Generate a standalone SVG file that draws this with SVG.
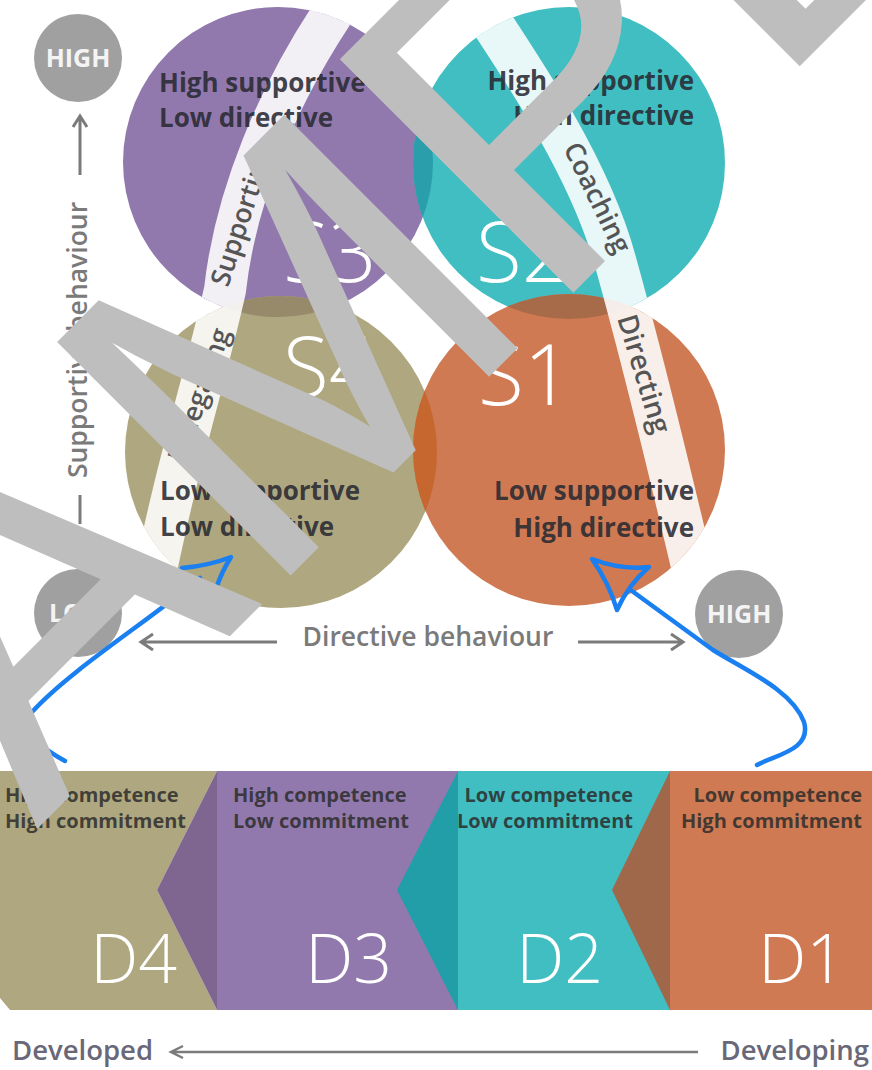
<svg xmlns="http://www.w3.org/2000/svg" width="872" height="1070" viewBox="0 0 872 1070">
<style>
.lbl{font-family:"Open Sans","Liberation Sans",sans-serif;font-weight:700;font-size:26px;fill:#2a2a33;fill-opacity:.9}
.dl{font-family:"Open Sans","Liberation Sans",sans-serif;font-weight:700;font-size:20px;fill:#2c2c2c;fill-opacity:.85}
.big{font-family:"Open Sans","Liberation Sans",sans-serif;font-weight:300;fill:#ffffff}
.band{font-family:"Open Sans","Liberation Sans",sans-serif;font-weight:600;font-size:27px;fill:#555555}
.axis{font-family:"Open Sans","Liberation Sans",sans-serif;font-weight:600;font-size:26.5px;fill:#7a7a7a}
.dev{font-family:"Open Sans","Liberation Sans",sans-serif;font-weight:600;font-size:27.5px;fill:#686878}
.hl{font-family:"Open Sans","Liberation Sans",sans-serif;font-weight:700;font-size:25px;fill:#f4f4f4;text-anchor:middle}
.ax{stroke:#7b7b7b;stroke-width:3;fill:none}
.blue{stroke:#1a7ff0;stroke-width:4.5;fill:none;stroke-linecap:round;stroke-linejoin:round}
.rib{stroke:#ffffff;stroke-opacity:.88;stroke-width:42;fill:none}
</style>
<defs>
<clipPath id="cS3"><circle cx="278" cy="162" r="155"/></clipPath>
<clipPath id="cS2"><circle cx="569" cy="163" r="156"/></clipPath>
<clipPath id="cS4"><circle cx="281" cy="452" r="156"/></clipPath>
<clipPath id="cAll"><circle cx="278" cy="162" r="155"/><circle cx="569" cy="163" r="156"/><circle cx="281" cy="452" r="156"/><circle cx="569" cy="450" r="156"/></clipPath>
</defs>
<rect width="872" height="1070" fill="#ffffff"/>

<g id="S3"><circle cx="278" cy="162" r="155" fill="#9179ad"/></g>
<g id="S2"><circle cx="569" cy="163" r="156" fill="#40bec1"/></g>
<g id="S4"><circle cx="281" cy="452" r="156" fill="#aea77f"/></g>
<g id="S1"><circle cx="569" cy="450" r="156" fill="#cf7a52"/></g>
<g id="overlaps">
<circle cx="569" cy="163" r="156" fill="#2a9eab" clip-path="url(#cS3)"/>
<circle cx="281" cy="452" r="156" fill="#978a6b" clip-path="url(#cS3)"/>
<circle cx="569" cy="450" r="156" fill="#a86b4a" clip-path="url(#cS2)"/>
<circle cx="569" cy="450" r="156" fill="#c6672f" clip-path="url(#cS4)"/>
</g>
<g id="ribbons" clip-path="url(#cAll)">
<path class="rib" d="M 345,-5 C 275,95 235,200 225,290 C 205,380 175,470 150,600"/>
<path class="rib" d="M 470,-10 C 530,80 590,170 615,260 C 640,350 665,450 700,600"/>
</g>
<g id="ribbon-labels">
<text class="band" transform="translate(228,288) rotate(-72)">Supporting</text>
<text class="band" transform="translate(185,464) rotate(-71)">Delegating</text>
<text class="band" transform="translate(563,148) rotate(64)">Coaching</text>
<text class="band" transform="translate(617,318) rotate(73)" style="font-size:28px">Directing</text>
</g>
<g id="S-labels">
<text class="big" x="283" y="282" font-size="84">S3</text>
<text class="big" x="476" y="282" font-size="84">S2</text>
<text class="big" x="283" y="397" font-size="84">S4</text>
<text class="big" x="478" y="405" font-size="84">S1</text>
</g>
<g id="circle-texts">
<text class="lbl" x="159" y="92">High supportive</text>
<text class="lbl" x="159" y="127">Low directive</text>
<text class="lbl" x="694" y="90" text-anchor="end">High supportive</text>
<text class="lbl" x="694" y="125" text-anchor="end">High directive</text>
<text class="lbl" x="160" y="500">Low supportive</text>
<text class="lbl" x="160" y="536">Low directive</text>
<text class="lbl" x="694" y="500" text-anchor="end">Low supportive</text>
<text class="lbl" x="694" y="537" text-anchor="end">High directive</text>
</g>

<g id="high-top"><circle cx="78" cy="58" r="44" fill="#a0a0a0"/><text class="hl" x="78" y="67">HIGH</text></g>
<g id="low"><circle cx="78" cy="613" r="44" fill="#a0a0a0"/><text class="hl" x="78" y="622">LOW</text></g>
<g id="high-right"><circle cx="739" cy="614" r="44" fill="#a0a0a0"/><text class="hl" x="739" y="623">HIGH</text></g>
<g id="axis-labels">
<text class="axis" transform="translate(87,340) rotate(-90)" text-anchor="middle">Supportive behaviour</text>
<text class="axis" x="428" y="646" text-anchor="middle">Directive behaviour</text>
</g>

<g id="D4"><polygon points="0,771 217,771 157,890 217,1010 10,1010 0,998" fill="#aea77f"/><text class="dl" x="5" y="802">High competence</text><text class="dl" x="5" y="828">High commitment</text><text class="big" x="177" y="983" font-size="68" text-anchor="end">D4</text></g>
<g id="D3"><rect x="217" y="771" width="241" height="239" fill="#9179ad"/><polygon points="217,771 157,890 217,1010" fill="#7e6690"/><text class="dl" x="233" y="802">High competence</text><text class="dl" x="233" y="828">Low commitment</text><text class="big" x="392" y="983" font-size="68" text-anchor="end">D3</text></g>
<g id="D2"><rect x="458" y="771" width="212" height="239" fill="#40bec1"/><polygon points="458,771 397,890 458,1010" fill="#229ea8"/><text class="dl" x="633" y="802" text-anchor="end">Low competence</text><text class="dl" x="633" y="828" text-anchor="end">Low commitment</text><text class="big" x="603" y="983" font-size="68" text-anchor="end">D2</text></g>
<g id="D1"><rect x="670" y="771" width="202" height="239" fill="#cf7a52"/><polygon points="670,771 612,890 670,1010" fill="#a0684a"/><text class="dl" x="862" y="802" text-anchor="end">Low competence</text><text class="dl" x="862" y="828" text-anchor="end">High commitment</text><text class="big" x="845" y="983" font-size="68" text-anchor="end">D1</text></g>
<g id="dev-labels">
<text class="dev" x="12" y="1060">Developed</text>
<text class="dev" x="869" y="1060" text-anchor="end">Developing</text>
</g>

<g id="connectors">
<path class="ax" d="M 80,118 L 80,175 M 73,127 L 80,116 L 87,127"/>
<path class="ax" d="M 80,495 L 80,524"/>
<path class="ax" d="M 141,642 L 277,642 M 153,634 L 141,642 L 153,650"/>
<path class="ax" d="M 578,642 L 683,642 M 671,634 L 683,642 L 671,650"/>
<path class="ax" d="M 171,1052 L 698,1052 M 183,1046 L 171,1052 L 183,1058" style="stroke-width:2.5"/>
<path class="blue" d="M 65,761 C 45,750 22,735 32,712 C 70,670 150,620 200,578"/>
<path class="blue" d="M 182,568 Q 208,566 231,557 Q 221,573 216,589"/>
<path class="blue" d="M 757,765 C 775,755 812,750 804,722 C 792,690 745,670 713,650 L 632,591"/>
<path class="blue" d="M 649,567 Q 620,570 592,559 Q 609,583 617,610 Q 628,585 649,567 Z"/>
</g>

<g id="watermark">
<text x="-190" y="1056" transform="rotate(-45 -190 1056)" font-family="Liberation Sans, Arial, sans-serif" font-size="480" fill="#bebebe">SAMPLE</text>
</g>
</svg>
